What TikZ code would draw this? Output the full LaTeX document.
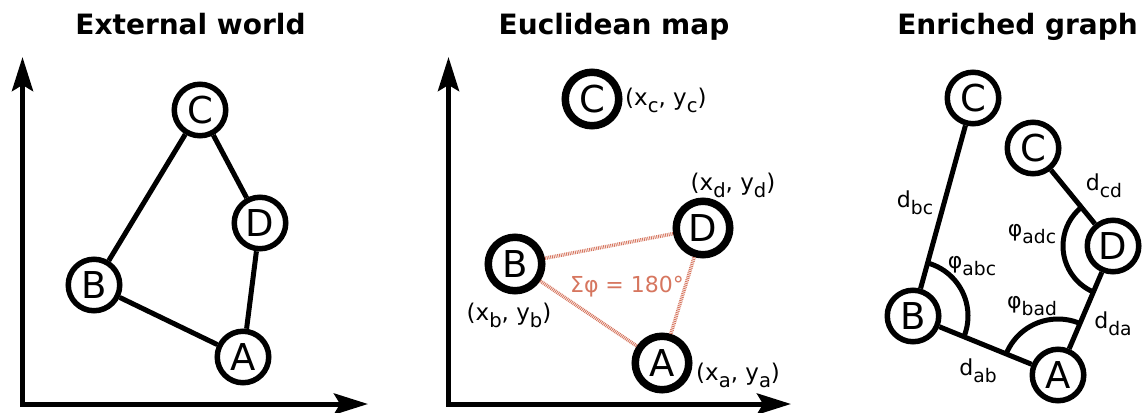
\documentclass[tikz,border=0pt]{standalone}
\usepackage{fontspec}
\setmainfont{DejaVu Sans}
\usetikzlibrary{arrows.meta,calc}
\definecolor{salmon}{RGB}{214,118,95}
\newcommand\sbs[1]{\raisebox{-0.3em}{\scalebox{0.85}{#1}}}
\begin{document}
\begin{tikzpicture}[x=1pt,y=-1pt,
  vtx/.style={circle,draw,line width=5.5pt,minimum size=51.5pt,inner sep=0pt,fill=white,
    font=\fontsize{37}{37}\selectfont},
  vtxb/.style={vtx,line width=7.5pt,minimum size=53.5pt},
  edge/.style={line width=5pt},
  axis/.style={line width=5pt,line join=miter,
    {Stealth[length=34pt,width=21pt,inset=6pt]}-{Stealth[length=34pt,width=21pt,inset=6pt]}},
  ttl/.style={anchor=base,inner sep=0pt,font=\fontsize{28}{28}\selectfont\bfseries},
  lbl/.style={inner sep=0pt,font=\fontsize{23}{23}\selectfont},
  elbl/.style={inner sep=0pt,font=\fontsize{22}{22}\selectfont},
  hatch/.style={salmon,line width=3.6pt,dash pattern=on 0.9pt off 0.9pt},
  angarc/.style={line width=5pt}]
\useasboundingbox (0,0) rectangle (1142,412);

% ---------- Panel 1 ----------
\node[ttl] (t1) at (190.5,35) {External world};
\coordinate (o1) at (22.5,404);
\coordinate (y1) at (22.5,57);
\coordinate (x1) at (368,404);
\draw[axis] (y1) -- (o1) -- (x1);
\node[vtx] (C1) at (200,110) {C};
\node[vtx] (D1) at (260,223) {D};
\node[vtx] (B1) at (94,285) {B};
\node[vtx] (A1) at (243,357) {A};
\draw[edge] (C1) -- (B1);
\draw[edge] (C1) -- (D1);
\draw[edge] (D1) -- (A1);
\draw[edge] (B1) -- (A1);

% ---------- Panel 2 ----------
\node[ttl] (t2) at (614,35) {Euclidean map};
\coordinate (o2) at (448.5,404);
\coordinate (y2) at (448.5,57);
\coordinate (x2) at (791,404);
\draw[axis] (y2) -- (o2) -- (x2);
\node[vtxb] (C2) at (592,99) {C};
\node[vtxb] (D2) at (703,228) {D};
\node[vtxb] (B2) at (515,264) {B};
\node[vtxb] (A2) at (662,363) {A};
\draw[hatch] (B2) -- (D2);
\draw[hatch] (B2) -- (A2);
\draw[hatch] (D2) -- (A2);
\node[lbl,anchor=west] (lc) at (625,100) {(x\sbs{c}, y\sbs{c})};
\node[lbl] (ld) at (733,185) {(x\sbs{d}, y\sbs{d})};
\node[lbl] (lb) at (509,315) {(x\sbs{b}, y\sbs{b})};
\node[lbl,anchor=west] (la) at (696,375) {(x\sbs{a}, y\sbs{a})};
\node[inner sep=0pt,font=\fontsize{22}{22}\selectfont,text=salmon] (sum) at (627,287) {Σφ = 180°};

% ---------- Panel 3 ----------
\node[ttl] (t3) at (1017.5,35) {Enriched graph};
\node[vtx] (C3a) at (973,98) {C};
\node[vtx] (C3b) at (1033,148) {C};
\node[vtx] (D3) at (1113,246) {D};
\node[vtx] (B3) at (913,316) {B};
\node[vtx] (A3) at (1058,375) {A};
\draw[edge] (C3a) -- (B3);
\draw[edge] (B3) -- (A3);
\draw[edge] (A3) -- (D3);
\draw[edge] (D3) -- (C3b);
\draw[angarc] let \p1=($(C3a)-(B3)$), \p2=($(A3)-(B3)$),
  \n1={atan2(\y1,\x1)}, \n2={atan2(\y2,\x2)} in
  ($(B3)+(\n1:55pt)$) arc[start angle=\n1, end angle=\n2, radius=55pt];
\draw[angarc] let \p1=($(D3)-(A3)$), \p2=($(B3)-(A3)$),
  \n1={atan2(\y1,\x1)}, \n2={atan2(\y2,\x2)} in
  ($(A3)+(\n1:56pt)$) arc[start angle=\n1, end angle=\n2, radius=56pt];
\draw[angarc] let \p1=($(C3b)-(D3)$), \p2=($(A3)-(D3)$),
  \n1={atan2(\y1,\x1)}, \n2={atan2(\y2,\x2)+360} in
  ($(D3)+(\n1:50pt)$) arc[start angle=\n1, end angle=\n2, radius=50pt];
\node[elbl] (dbc) at (915,203) {d\sbs{bc}};
\node[elbl] (dcd) at (1104,186) {d\sbs{cd}};
\node[elbl] (padc) at (1032,234) {φ\sbs{adc}};
\node[elbl] (pabc) at (972,266) {φ\sbs{abc}};
\node[elbl] (pbad) at (1032,306) {φ\sbs{bad}};
\node[elbl] (dda) at (1113,324) {d\sbs{da}};
\node[elbl] (dab) at (978,371) {d\sbs{ab}};
\end{tikzpicture}
\end{document}
